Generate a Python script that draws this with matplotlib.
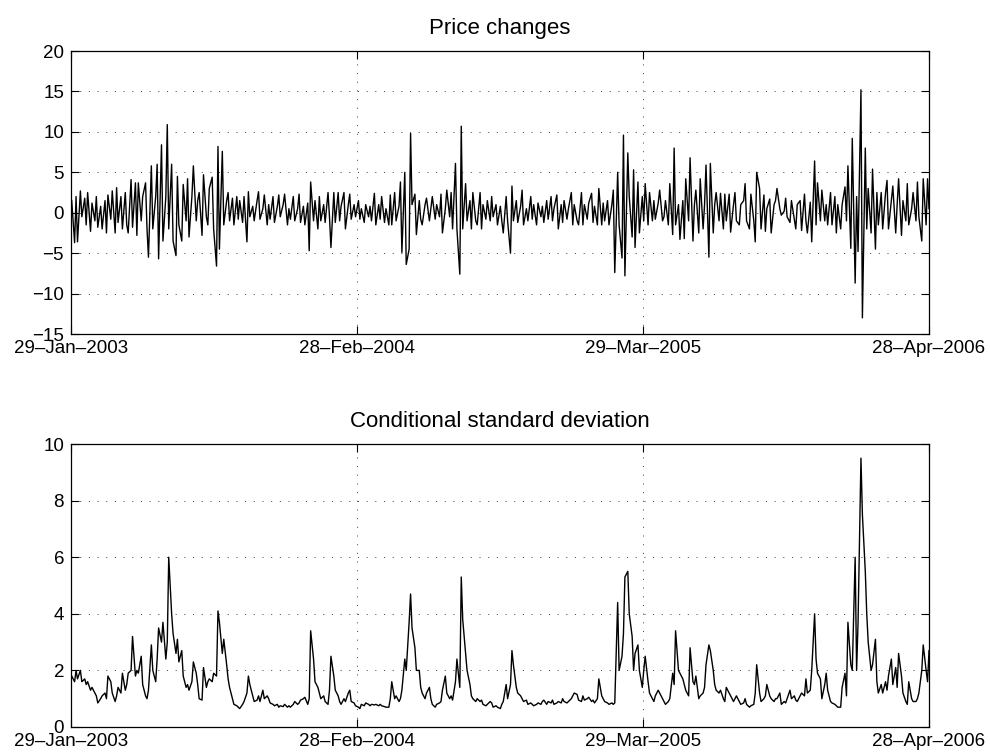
"""Price changes and conditional standard deviation, two stacked panels."""

import numpy as np
import pandas as pd
import matplotlib
matplotlib.use("Agg")
import matplotlib.pyplot as plt
import matplotlib.dates as mdates

plt.rcParams["font.family"] = ["Liberation Sans", "DejaVu Sans"]
plt.rcParams["font.size"] = 13.5

# every second trading day, 30-Jan-2003 .. 28-Apr-2006
dates = pd.bdate_range("2003-01-29", "2006-04-28")[1::2]

tick_dates = ["2003-01-29", "2004-02-28", "2005-03-29", "2006-04-28"]

price_changes = [
    1.5, -3.7, 2.0, -3.6, 2.7, -0.5, 1.8, -1.5, 2.5, -2.3,
    1.2, -1.0, 2.0, -1.8, 0.8, -2.0, 1.5, -2.5, 2.2, -0.8,
    2.7, -2.5, 3.1, -1.2, 2.0, -2.0, 2.5, -1.5, -2.5, 4.1,
    -1.8, 3.7, -2.8, 3.7, -1.0, 2.0, 3.7, -2.0, -5.5, 5.8,
    -2.0, 2.0, 6.0, -5.7, 8.4, -3.5, 2.0, 10.9, -2.0, 6.0,
    -3.5, -5.3, 4.5, -1.5, -3.5, 3.5, -1.0, 4.2, -3.0, 2.0,
    5.8, -1.0, 1.5, 2.5, -2.8, 4.7, -0.5, -1.5, 3.0, 4.4,
    -2.0, -6.6, 8.2, -4.5, 7.6, -1.5, 1.5, 2.5, -1.0, 1.8,
    -1.5, 2.0, -0.8, 1.5, -1.2, 2.0, -3.6, 2.6, -0.5, 0.8,
    -1.0, 1.5, 2.6, -0.8, 0.5, 2.2, -1.5, 1.0, -0.8, 2.0,
    -1.2, 0.8, 2.2, -0.5, 1.0, 2.3, -1.5, 0.5, -0.8, 2.0,
    -1.0, 0.5, 2.3, -1.2, 0.8, -1.5, 1.2, -4.7, 3.8, -1.0,
    1.5, -2.0, 2.0, -1.0, 1.0, -1.2, 2.5, -0.5, -4.3, 2.5,
    -1.2, 2.5, -1.0, 0.8, 2.5, -2.0, 1.0, 2.3, -0.8, 1.0,
    -0.5, 1.5, -0.8, 0.5, -1.2, 1.0, -0.5, 0.8, -1.0, 2.4,
    -1.5, 1.0, -0.8, 2.0, -1.2, 0.5, -1.5, 2.2, -1.5, 2.5,
    -1.0, 0.8, 3.8, -4.9, 5.0, -6.4, -4.5, 9.8, 1.0, 2.3,
    -2.7, 1.5, -0.8, -1.5, 1.0, 1.8, -1.0, 0.5, 2.0, -0.8,
    1.0, -0.5, 2.3, -2.5, 0.5, 2.8, -0.5, 2.5, -2.0, 6.1,
    -2.0, -7.6, 10.7, -2.0, 3.6, -1.0, 1.5, -2.0, 2.5, -1.0,
    -1.5, 2.5, -2.0, 1.0, -0.8, 1.5, -1.0, 2.0, -0.5, 1.0,
    -1.5, 0.8, -1.0, -2.5, 2.0, -1.0, -5.0, 3.3, -1.0, 1.5,
    -1.2, 0.8, 2.8, -1.5, 0.5, -1.0, 2.0, -0.8, 1.0, -1.5,
    1.2, -0.5, 0.8, -1.2, 1.5, -0.8, 2.0, -1.0, 0.5, 2.2,
    -2.0, 1.0, -1.2, 1.5, -0.8, 0.5, 2.5, -1.5, 1.0, -1.0,
    -1.5, 2.5, -1.5, 1.0, -0.8, 1.2, 2.4, -1.2, 0.8, -1.5,
    3.0, -1.5, 1.2, -1.0, 1.5, -1.5, 1.0, 2.8, -7.4, 5.0,
    -1.5, -5.6, 9.6, -7.8, 7.4, 2.0, -3.0, 5.3, -4.3, 3.8,
    -2.5, 2.0, -1.0, 3.6, -1.5, 2.5, -1.0, 1.5, -0.8, 1.2,
    2.8, -1.0, -0.5, 1.5, -1.5, 3.6, -2.7, 8.0, -1.5, 1.0,
    -3.3, 1.5, -3.2, 4.2, -1.0, 6.8, -3.5, 1.0, 2.8, -2.5,
    4.2, -2.0, 1.0, 5.9, -5.5, 6.1, -2.5, 1.0, 2.5, -1.0,
    2.4, -2.0, 2.3, -1.0, 2.3, -2.4, 1.0, 2.5, -1.0, -1.5,
    1.0, 1.5, 3.6, -1.0, -2.0, 2.3, -1.0, -3.6, 5.0, 3.0,
    -2.0, 2.2, -2.3, 0.5, 1.7, -2.5, 1.0, 1.5, 3.0, 0.5,
    -0.3, 0.2, 1.8, -0.5, -1.2, 1.5, -0.8, -2.0, 1.0, 1.5,
    -2.2, 2.3, -1.0, -2.5, 1.3, -3.6, 6.4, -1.5, 3.7, -1.0,
    2.8, -1.0, 1.0, -1.5, 2.5, -1.5, 2.0, -2.5, 1.0, -2.0,
    1.0, 3.2, -1.0, 5.8, -4.4, 9.2, -8.7, 2.0, -4.8, 15.2,
    -13.0, 8.0, -2.0, 3.0, -2.5, 5.4, -4.5, 2.5, -1.5, 2.5,
    -2.0, 2.5, 4.0, -2.0, 1.5, 3.3, -2.5, 1.0, 4.2, -2.8,
    1.5, -1.0, 3.6, -1.5, 0.5, 2.5, -1.0, 3.8, -0.5, -3.5,
    4.2, -1.5, 4.2, 0.5,
]

cond_std = [
    1.8, 1.6, 2.0, 1.7, 2.0, 1.6, 1.7, 1.5, 1.6, 1.3,
    1.4, 1.2, 1.1, 0.85, 1.0, 1.1, 1.2, 1.0, 1.8, 1.6,
    1.2, 0.9, 1.1, 1.4, 1.2, 1.9, 1.3, 1.5, 1.9, 2.0,
    3.2, 1.8, 2.0, 1.9, 2.5, 1.5, 1.1, 1.0, 1.3, 2.9,
    2.0, 1.6, 2.4, 3.5, 3.0, 3.7, 2.4, 3.0, 6.0, 4.0,
    3.3, 2.6, 3.1, 2.3, 2.7, 1.8, 1.4, 1.5, 1.3, 1.6,
    2.3, 1.9, 1.5, 1.0, 0.95, 2.1, 1.4, 1.6, 1.7, 1.6,
    1.9, 1.8, 4.1, 3.7, 2.6, 3.1, 2.2, 1.7, 1.4, 1.0,
    0.8, 0.75, 0.7, 0.65, 0.8, 0.9, 1.2, 1.8, 1.5, 1.1,
    0.9, 0.95, 1.1, 0.9, 1.3, 1.0, 1.1, 1.0, 0.85, 0.8,
    0.75, 0.8, 0.7, 0.75, 0.72, 0.8, 0.7, 0.75, 0.7, 0.8,
    0.9, 0.8, 0.85, 0.95, 1.0, 1.05, 0.8, 1.0, 3.4, 2.4,
    1.6, 1.4, 1.2, 1.0, 1.1, 0.9, 0.8, 1.3, 2.5, 1.8,
    1.3, 1.1, 0.9, 0.8, 1.0, 0.9, 1.2, 1.3, 0.9, 0.85,
    0.75, 0.7, 0.65, 0.8, 0.75, 0.85, 0.8, 0.75, 0.8, 0.78,
    0.8, 0.75, 0.8, 0.75, 0.72, 0.7, 0.7, 1.0, 1.6, 1.0,
    1.1, 0.9, 1.0, 1.3, 2.4, 2.0, 3.7, 4.7, 3.5, 2.8,
    2.0, 2.0, 1.4, 1.2, 1.0, 1.2, 1.4, 1.0, 0.8, 0.7,
    0.8, 0.85, 0.9, 1.3, 1.8, 1.2, 1.0, 1.1, 0.95, 1.6,
    2.4, 1.4, 5.3, 3.8, 2.6, 2.0, 1.5, 1.1, 1.0, 0.9,
    1.0, 0.9, 0.95, 0.8, 0.75, 0.8, 0.9, 0.85, 0.7, 0.75,
    0.7, 0.65, 0.8, 0.9, 1.5, 1.0, 1.5, 2.7, 2.2, 1.4,
    1.2, 1.1, 1.0, 0.9, 0.95, 0.8, 0.85, 0.8, 0.75, 0.8,
    0.85, 0.8, 0.9, 0.95, 0.8, 0.9, 0.85, 0.95, 0.8, 0.85,
    0.9, 0.85, 1.0, 0.9, 0.85, 0.9, 1.0, 1.1, 1.2, 1.15,
    0.95, 0.9, 1.1, 0.95, 1.0, 1.05, 0.9, 0.95, 0.85, 1.0,
    1.7, 1.1, 1.0, 0.9, 0.85, 0.8, 0.85, 0.8, 0.85, 4.4,
    2.0, 2.5, 3.3, 5.3, 5.5, 4.0, 3.2, 2.0, 2.6, 2.9,
    2.0, 1.4, 2.0, 2.5, 1.6, 1.2, 1.0, 0.9, 1.1, 1.3,
    1.2, 1.0, 0.9, 0.8, 0.9, 1.0, 1.9, 1.5, 3.4, 2.0,
    1.9, 1.7, 1.5, 1.3, 1.1, 2.8, 1.6, 1.5, 1.8, 1.0,
    1.1, 1.2, 1.4, 2.2, 2.9, 2.7, 2.0, 1.5, 1.3, 1.2,
    1.3, 1.0, 0.9, 1.4, 1.2, 1.1, 0.9, 1.0, 1.1, 0.9,
    0.8, 0.85, 1.0, 0.8, 0.7, 0.75, 0.8, 1.2, 2.2, 1.2,
    0.9, 1.0, 1.1, 1.5, 1.1, 1.0, 0.9, 1.0, 1.0, 1.2,
    0.8, 0.9, 0.85, 1.0, 1.3, 1.0, 1.1, 0.95, 0.9, 1.1,
    1.2, 1.1, 1.7, 1.2, 1.3, 2.0, 4.0, 2.4, 1.9, 1.7,
    1.0, 1.5, 1.9, 1.3, 0.9, 0.85, 0.8, 0.75, 0.7, 0.7,
    1.4, 1.9, 1.1, 3.7, 2.2, 2.0, 6.0, 2.0, 3.7, 9.5,
    7.5, 5.5, 4.0, 3.0, 2.0, 2.2, 3.1, 1.6, 1.2, 1.5,
    1.2, 1.6, 1.3, 1.8, 2.4, 1.5, 2.1, 1.4, 2.6, 1.8,
    1.2, 0.9, 0.8, 1.6, 1.0, 0.9, 0.9, 1.0, 1.2, 2.0,
    2.9, 2.0, 1.6, 2.7,
]

assert len(price_changes) == len(dates) == len(cond_std), (
    len(price_changes), len(dates), len(cond_std))

x = dates.to_numpy()
xticks = [np.datetime64(d) for d in tick_dates]

fig = plt.figure(figsize=(9.9, 7.55), dpi=100)
ax1 = fig.add_axes([0.0717, 0.5576, 0.8667, 0.3748])
ax2 = fig.add_axes([0.0717, 0.0371, 0.8667, 0.3748])

panels = [
    (ax1, price_changes, "Price changes", (-15, 20), np.arange(-15, 21, 5)),
    (ax2, cond_std, "Conditional standard deviation", (0, 10), np.arange(0, 11, 2)),
]

for ax, values, title, ylim, yticks in panels:
    ax.plot(x, values, color="black", linewidth=1.0)
    ax.set_xlim(xticks[0], xticks[-1])
    ax.set_ylim(*ylim)
    ax.set_xticks(xticks)
    ax.xaxis.set_major_formatter(mdates.DateFormatter("%d\u2013%b\u2013%Y"))
    ax.set_yticks(yticks)
    ax.set_title(title, fontsize=16, pad=12)
    ax.grid(True, color="black", linewidth=0.5, linestyle=(0, (1.5, 11)))
    ax.set_axisbelow(True)
    ax.tick_params(direction="in", length=6, width=0.8, top=True, right=True,
                   labelsize=13.5)
    ax.tick_params(axis="x", pad=4)
    ax.tick_params(axis="y", pad=5)
    for sp in ax.spines.values():
        sp.set_linewidth(0.9)

fig.savefig("out.png", dpi=100)
